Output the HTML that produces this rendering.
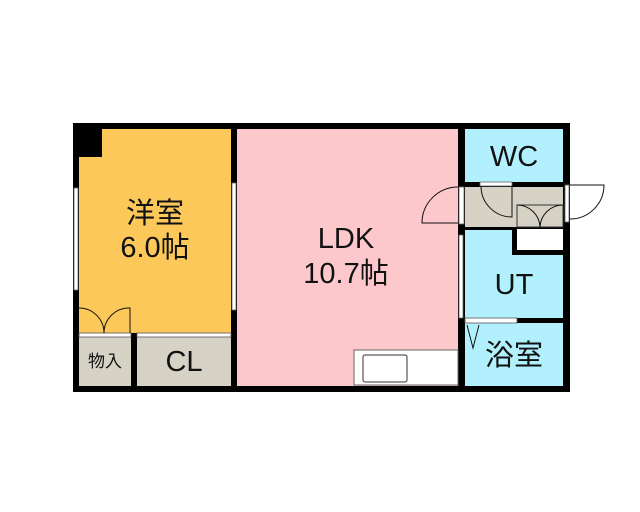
<!DOCTYPE html>
<html><head><meta charset="utf-8"><style>
body{margin:0;background:#fff}
svg{display:block}
text{font-family:"Liberation Sans","Noto Sans CJK JP",sans-serif;fill:#111}
</style></head><body>
<svg width="640" height="512" viewBox="0 0 640 512">
<rect x="73" y="123" width="497" height="269" fill="#000"/>
<rect x="79" y="129" width="152" height="204" fill="#fdc85a"/>
<rect x="79" y="129" width="23" height="28" fill="#000"/>
<rect x="79" y="337" width="52" height="49" fill="#d6d3c6"/>
<rect x="137" y="337" width="94" height="49" fill="#d6d3c6"/>
<rect x="79" y="333" width="52" height="4" fill="#fff" stroke="#555" stroke-width="0.8"/>
<rect x="137" y="333" width="94" height="4" fill="#fff" stroke="#555" stroke-width="0.8"/>
<rect x="237" y="129" width="221" height="257" fill="#fcc8cb"/>
<rect x="465" y="129" width="98" height="53" fill="#b3f0fd"/>
<rect x="465" y="187" width="98" height="40" fill="#d6d3c6"/>
<rect x="465" y="230" width="98" height="88" fill="#b3f0fd"/>
<rect x="512" y="227" width="51" height="28" fill="#000"/>
<rect x="517" y="229" width="46" height="21" fill="#fff"/>
<rect x="465" y="323" width="98" height="63" fill="#b3f0fd"/>
<rect x="465" y="318" width="52" height="5" fill="#fff" stroke="#555" stroke-width="0.8"/>
<rect x="354" y="350" width="104" height="35" fill="#fff" stroke="#666" stroke-width="1"/>
<rect x="363" y="355" width="44" height="27" rx="2" fill="#fff" stroke="#333" stroke-width="1"/>
<rect x="74" y="188" width="4" height="102" fill="#fff" stroke="#666" stroke-width="0.8"/>
<rect x="232" y="183" width="4" height="127" fill="#fff" stroke="#666" stroke-width="0.8"/>
<rect x="459" y="235" width="4" height="83" fill="#fff" stroke="#666" stroke-width="0.8"/>
<rect x="459" y="187" width="5" height="37" fill="#fff" stroke="#666" stroke-width="0.8"/>
<path d="M458 223 H422 A36 36 0 0 1 458 187" fill="none" stroke="#111" stroke-width="1"/>
<rect x="565" y="185" width="4" height="37" fill="#fff" stroke="#666" stroke-width="0.8"/>
<path d="M570 185 H604 A34 34 0 0 1 570 219" fill="none" stroke="#111" stroke-width="1"/>
<rect x="480" y="182" width="32" height="4" fill="#fff" stroke="#666" stroke-width="0.8"/>
<path d="M481 186 A31 31 0 0 0 512 217 V186" fill="none" stroke="#111" stroke-width="1"/>
<rect x="517" y="205" width="46" height="22" fill="none" stroke="#333" stroke-width="1"/>
<path d="M517 205 A23 23 0 0 1 540 227 A23 23 0 0 1 563 205" fill="none" stroke="#111" stroke-width="1"/>
<path d="M79 308 A25 25 0 0 1 104 333 A25 25 0 0 1 130 308 V333" fill="none" stroke="#111" stroke-width="1"/>
<path d="M467 325 L473 348 L479 325" fill="none" stroke="#111" stroke-width="1"/>
<text x="155" y="223" font-size="29" text-anchor="middle">洋室</text>
<text x="155" y="257" font-size="29" text-anchor="middle">6.0帖</text>
<text x="346" y="248" font-size="29" text-anchor="middle">LDK</text>
<text x="346" y="283" font-size="29" text-anchor="middle">10.7帖</text>
<text x="514" y="166" font-size="29" text-anchor="middle">WC</text>
<text x="514" y="294" font-size="29" text-anchor="middle">UT</text>
<text x="514" y="365" font-size="29" text-anchor="middle">浴室</text>
<text x="105" y="367" font-size="17" text-anchor="middle">物入</text>
<text x="184" y="371" font-size="29" text-anchor="middle">CL</text>
</svg>
</body></html>
